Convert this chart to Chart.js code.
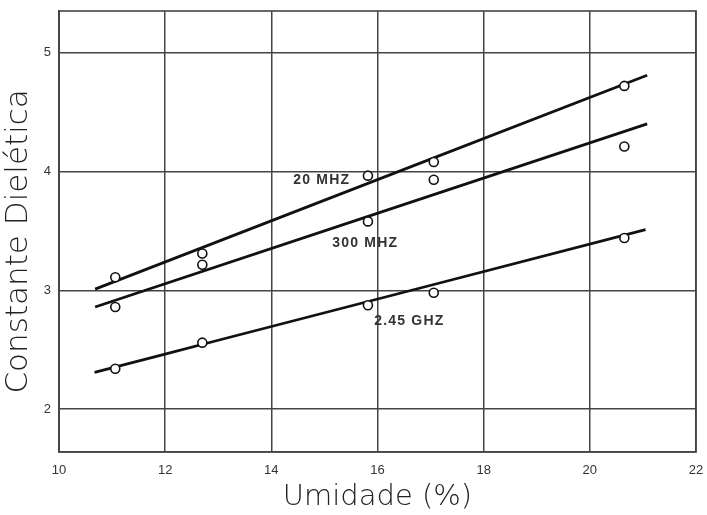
<!DOCTYPE html>
<html>
<head>
<meta charset="utf-8">
<script src="https://cdn.jsdelivr.net/npm/chart.js@4.4.1/dist/chart.umd.min.js"></script>
<style>
  html, body { margin: 0; padding: 0; background: #fff; }
  #wrap { width: 707px; height: 515px; }
</style>
</head>
<body>
<div id="wrap"><canvas id="myChart" width="707" height="515"></canvas></div>
<script>
// measured points (umidade %, constante dieletrica)
var umidade = [11.06, 12.70, 15.82, 17.06, 20.65];
var mhz20 = [3.11, 3.31, 3.965, 4.08, 4.72];
var mhz300 = [2.86, 3.215, 3.58, 3.93, 4.21];
var ghz245 = [2.34, 2.56, 2.875, 2.98, 3.44];

// fitted curves
var fitX = [10.68, 21.08];
var fit20 = [3.01, 4.81];
var fit300 = [2.86, 4.40];
var fitX245 = [10.67, 13.0, 21.05];
var fit245 = [2.31, 2.58, 3.51];

var xTicks = [10, 12, 14, 16, 18, 20, 22];
var yTicks = [2, 3, 4, 5];

// curve labels: text, x, y (data units)
var curveLabels = [
  ['20 MHZ', 14.95, 3.93],
  ['300 MHZ', 15.77, 3.40],
  ['2.45 GHZ', 16.6, 2.745]
];

function pts(xs, ys) {
  var out = [];
  for (var i = 0; i < xs.length; i++) {
    out.push({x: xs[i], y: ys[i]});
  }
  return out;
}

function markerSet(ys) {
  return {
    data: pts(umidade, ys),
    showLine: false,
    pointRadius: 4.5,
    pointBorderWidth: 1.6,
    pointBorderColor: '#111',
    pointBackgroundColor: '#fff',
    order: 0
  };
}

function fitSet(xs, ys) {
  return {
    data: pts(xs, ys),
    showLine: true,
    borderColor: '#111',
    borderWidth: 2.8,
    pointRadius: 0,
    tension: 0.3,
    order: 1
  };
}

var frame = {
  id: 'frame',
  afterDraw: function(chart) {
    var ctx = chart.ctx, a = chart.chartArea;
    ctx.save();
    ctx.strokeStyle = '#444';
    ctx.lineWidth = 1.6;
    ctx.strokeRect(a.left, a.top, a.right - a.left, a.bottom - a.top);
    ctx.restore();
  }
};

var labelsPlugin = {
  id: 'curveLabels',
  afterDatasetsDraw: function(chart) {
    var ctx = chart.ctx;
    var xs = chart.scales.x, ys = chart.scales.y;
    ctx.save();
    ctx.font = 'bold 14px "Liberation Sans", Arial, sans-serif';
    ctx.letterSpacing = '1.2px';
    ctx.fillStyle = '#333';
    ctx.textAlign = 'center';
    ctx.textBaseline = 'middle';
    curveLabels.forEach(function(l) {
      ctx.fillText(l[0], xs.getPixelForValue(l[1]), ys.getPixelForValue(l[2]));
    });
    ctx.restore();
  }
};

var ctx = document.getElementById('myChart').getContext('2d');

var myChart = new Chart(ctx, {
  type: 'scatter',
  data: {
    datasets: [
      markerSet(mhz20),
      markerSet(mhz300),
      markerSet(ghz245),
      fitSet(fitX, fit20),
      fitSet(fitX, fit300),
      fitSet(fitX245, fit245)
    ]
  },
  options: {
    responsive: false,
    animation: false,
    layout: { padding: { top: 11, right: 11, left: 0, bottom: 0 } },
    plugins: {
      legend: { display: false },
      tooltip: { enabled: false }
    },
    scales: {
      x: {
        type: 'linear',
        min: 10,
        max: 22,
        afterBuildTicks: function(s) { s.ticks = xTicks.map(function(v) { return {value: v}; }); },
        afterFit: function(s) { s.height = 63; s.paddingLeft = 0; s.paddingRight = 0; },
        grid: { color: '#444', lineWidth: 1.5, drawTicks: false },
        border: { color: '#444', width: 1.6 },
        ticks: {
          padding: 11,
          color: '#333',
          font: { family: '"Liberation Sans", Arial, sans-serif', size: 13 }
        },
        title: {
          display: true,
          text: 'Umidade (%)',
          color: '#222',
          padding: { top: 0, bottom: 0 },
          font: { family: '"DejaVu Sans", sans-serif', size: 29, weight: 300 }
        }
      },
      y: {
        type: 'linear',
        min: 1.64,
        max: 5.35,
        afterBuildTicks: function(s) { s.ticks = yTicks.map(function(v) { return {value: v}; }); },
        afterFit: function(s) { s.width = 59; s.paddingTop = 0; s.paddingBottom = 0; },
        grid: { color: '#444', lineWidth: 1.5, drawTicks: false },
        border: { color: '#444', width: 1.6 },
        ticks: {
          padding: 8,
          color: '#333',
          font: { family: '"Liberation Sans", Arial, sans-serif', size: 13 }
        },
        title: {
          display: true,
          text: 'Constante Dielética  ',
          color: '#222',
          padding: { top: 0, bottom: 2 },
          font: { family: '"DejaVu Sans", sans-serif', size: 31, weight: 300 }
        }
      }
    }
  },
  plugins: [frame, labelsPlugin]
});
</script>
</body>
</html>
